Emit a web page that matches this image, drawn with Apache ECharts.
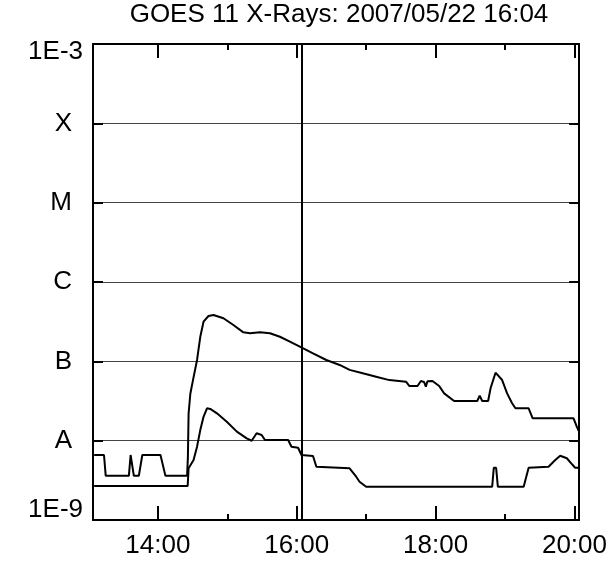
<!DOCTYPE html>
<html>
<head>
<meta charset="utf-8">
<script src="https://cdn.jsdelivr.net/npm/echarts@6/dist/echarts.min.js"></script>
<style>
  html, body { margin: 0; padding: 0; background: #fff; }
  #chart { width: 610px; height: 563px; }
</style>
</head>
<body>
<div id="chart"></div>
<script>
// times are minutes since 00:00 UT, flux in W/m^2
var longMin = [785, 793.5, 795, 815, 816.5, 817.5, 819.3, 823.6, 826.6, 829.4, 842.3, 846.6, 865.3,
  866.0, 866.6, 868.1, 870.4, 873.9, 876.7, 879.5, 883.8, 888.1, 896.7, 905.3, 913.9, 919.7,
  928.3, 936.9, 945.5, 954.1, 962.7, 974.1, 985.6, 997.1, 1005.7, 1017.1, 1028.6, 1040.1,
  1054.4, 1057.3, 1064.4, 1067.3, 1070, 1071.6, 1073, 1077.3, 1083.1, 1087.4, 1096.0,
  1116.0, 1118.1, 1120.3, 1125.4, 1127.5, 1131.8, 1137.5, 1141.8, 1146.1, 1149.0, 1160.4,
  1163.9, 1199.2, 1202.0, 1204.0];
var longFlux = [6.6e-9, 6.6e-9, 3.6e-9, 3.6e-9, 6.6e-9, 6.4e-9, 3.6e-9, 3.6e-9, 6.6e-9, 6.6e-9, 6.6e-9, 3.6e-9, 3.6e-9,
  6.3e-9, 2.2e-8, 3.9e-8, 5.8e-8, 1.04e-7, 2.04e-7, 3.16e-7, 3.73e-7, 3.84e-7, 3.49e-7, 2.87e-7, 2.32e-7, 2.26e-7,
  2.32e-7, 2.26e-7, 2.04e-7, 1.77e-7, 1.53e-7, 1.26e-7, 1.04e-7, 9.0e-8, 7.8e-8, 7.06e-8, 6.4e-8, 5.8e-8,
  5.53e-8, 4.89e-8, 4.89e-8, 5.65e-8, 5.5e-8, 4.8e-8, 5.6e-8, 5.65e-8, 4.89e-8, 3.95e-8, 3.16e-8,
  3.16e-8, 3.69e-8, 3.16e-8, 3.16e-8, 4.57e-8, 7.19e-8, 5.81e-8, 3.95e-8, 2.96e-8, 2.56e-8, 2.56e-8,
  1.91e-8, 1.91e-8, 1.5e-8, 1.3e-8];

var shortMin = [785, 865.8, 866.6, 870.9, 873.9, 876.7, 879.5, 882.5, 885.3, 891.1, 899.6, 908.3,
  916.8, 921.1, 925.4, 929.7, 932.6, 952.6, 955.5, 961.2, 964.1, 974.1, 977.0, 1005.7, 1007.1,
  1011.4, 1014.3, 1020.0, 1128.9, 1130.3, 1132.3, 1133.8, 1156.1, 1160.4, 1177.6, 1183.4,
  1187.7, 1193.4, 1197.2, 1200.6, 1204.0];
var shortFlux = [2.68e-9, 2.68e-9, 4.5e-9, 5.7e-9, 8.4e-9, 1.36e-8, 2.0e-8, 2.56e-8, 2.51e-8, 2.21e-8, 1.73e-8, 1.3e-8,
  1.07e-8, 9.98e-9, 1.24e-8, 1.18e-8, 1.02e-8, 1.02e-8, 8.39e-9, 8.15e-9, 6.59e-9, 6.41e-9, 4.7e-9, 4.48e-9, 4.56e-9,
  3.51e-9, 3.04e-9, 2.63e-9, 2.63e-9, 4.56e-9, 4.56e-9, 2.63e-9, 2.63e-9, 4.56e-9, 4.7e-9, 5.7e-9,
  6.46e-9, 6.0e-9, 5.18e-9, 4.56e-9, 4.56e-9];

var levelExp = [-9, -8, -7, -6, -5, -4, -3];
var levelNames = ['1E-9', 'A', 'B', 'C', 'M', 'X', '1E-3'];

var xStart = 784;      // 13:04
var xEnd = 1204;       // 20:04
var markerTime = 964;  // 16:04
var majorTicks = [840, 960, 1080, 1200];
var minorTicks = [900, 1020, 1140];

var titleText = 'GOES 11 X-Rays: 2007/05/22 16:04';
var FONT = '"Liberation Sans", Arial, Helvetica, sans-serif';

function zip(a, b) {
  var out = [];
  for (var i = 0; i < a.length; i++) out.push([a[i], b[i]]);
  return out;
}

function hhmm(v) {
  var h = Math.floor(v / 60), m = Math.round(v % 60);
  return (h < 10 ? '0' : '') + h + ':' + (m < 10 ? '0' : '') + m;
}

function levelLabel(v) {
  var e = Math.round(Math.log10(v));
  var i = levelExp.indexOf(e);
  if (i < 0) return '';
  var name = levelNames[i];
  if (e === -3) return '{top|' + name + '}';
  if (e === -9) return '{bot|' + name + '}';
  return '{lvl|' + name + '}';
}

function xAxisCfg(pos, ticks, len, withLabel, withLine) {
  return {
    type: 'value',
    position: pos,
    min: xStart,
    max: xEnd,
    axisLine: { show: withLine, onZero: false, lineStyle: { color: '#000', width: 2 } },
    axisTick: { show: true, inside: true, length: len, customValues: ticks,
      lineStyle: { color: '#000', width: 2 } },
    axisLabel: withLabel ? {
      show: true, customValues: ticks, formatter: hhmm, margin: 13,
      color: '#000', fontSize: 26, fontFamily: FONT
    } : { show: false },
    splitLine: { show: false }
  };
}

function yAxisCfg(pos, withLabel) {
  return {
    type: 'log',
    logBase: 10,
    position: pos,
    min: 1e-9,
    max: 1e-3,
    splitNumber: 6,
    axisLine: { show: true, onZero: false, lineStyle: { color: '#000', width: 2 } },
    axisTick: { show: true, inside: true, length: 10, lineStyle: { color: '#000', width: 2 } },
    axisLabel: withLabel ? {
      show: true, formatter: levelLabel, margin: 10,
      color: '#000', fontSize: 26, fontFamily: FONT,
      rich: {
        top: { fontSize: 26, fontFamily: FONT, color: '#000', padding: [16, 0, 0, 0] },
        bot: { fontSize: 26, fontFamily: FONT, color: '#000', padding: [0, 0, 20, 0] },
        lvl: { fontSize: 26, fontFamily: FONT, color: '#000', padding: [0, 11, 0, 0] }
      }
    } : { show: false },
    splitLine: withLabel ? { show: true, lineStyle: { color: '#444', width: 1 } } : { show: false }
  };
}

var chart = echarts.init(document.getElementById('chart'), null, { renderer: 'canvas' });

var option = {
  animation: false,
  backgroundColor: '#fff',
  title: {
    text: titleText,
    left: 339,
    top: 2,
    textAlign: 'center',
    padding: 0,
    textStyle: { color: '#000', fontSize: 26, fontWeight: 'normal', fontFamily: FONT }
  },
  grid: { left: 93, right: 29, top: 44, bottom: 43, containLabel: false },
  xAxis: [
    xAxisCfg('bottom', majorTicks, 14, true, true),
    xAxisCfg('bottom', minorTicks, 6, false, false),
    xAxisCfg('top', majorTicks, 14, false, true),
    xAxisCfg('top', minorTicks, 6, false, false)
  ],
  yAxis: [
    yAxisCfg('left', true),
    yAxisCfg('right', false)
  ],
  series: [
    {
      name: 'long',
      type: 'line',
      xAxisIndex: 0,
      yAxisIndex: 0,
      data: zip(longMin, longFlux),
      showSymbol: false,
      lineStyle: { color: '#000', width: 2 },
      markLine: {
        silent: true,
        symbol: ['none', 'none'],
        label: { show: false },
        lineStyle: { color: '#000', width: 2, type: 'solid' },
        data: [{ xAxis: markerTime }]
      }
    },
    {
      name: 'short',
      type: 'line',
      xAxisIndex: 0,
      yAxisIndex: 0,
      data: zip(shortMin, shortFlux),
      showSymbol: false,
      lineStyle: { color: '#000', width: 2 }
    }
  ]
};

chart.setOption(option);
</script>
</body>
</html>
